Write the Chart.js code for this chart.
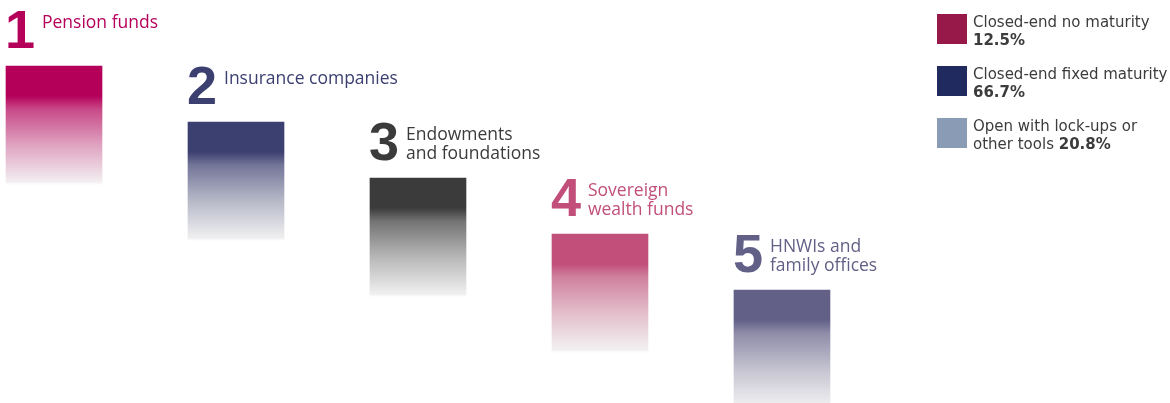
<!DOCTYPE html>
<html>
<head>
<meta charset="utf-8">
<script src="https://cdn.jsdelivr.net/npm/chart.js@4"></script>
<style>
    html, body { margin: 0; padding: 0; background: #fff; }
    #wrap { position: relative; width: 1170px; height: 403px; }
</style>
</head>
<body>
<div id="wrap"><canvas id="rankChart"></canvas></div>
<script>
// investor types, ranked
const investors = [['Pension funds'], ['Insurance companies'], ['Endowments', 'and foundations'], ['Sovereign', 'wealth funds'], ['HNWIs and', 'family offices']];
const ranks = [1, 2, 3, 4, 5];
const barColors = ['#b5005a', '#3b4070', '#3b3b3b', '#c14f79', '#626087'];
const barDepth = 2.14;

// fund structure shares (right-hand key)
const fundTypes = [['Closed-end no maturity', ''], ['Closed-end fixed maturity', ''], ['Open with lock-ups or', 'other tools']];
const fundShares = [12.5, 66.7, 20.8];
const fundColors = ['#97194a', '#212a5e', '#8a9cb5'];

// blend a hex colour toward a pale grey, t = share of the original colour
function fade(hex, t) {
    const n = parseInt(hex.slice(1), 16);
    const mix = v => Math.round(v * t + 244 * (1 - t));
    return `rgb(${mix((n >> 16) & 255)}, ${mix((n >> 8) & 255)}, ${mix(n & 255)})`;
}

function barGradient(ctx) {
    const chart = ctx.chart;
    const i = ctx.dataIndex;
    const color = barColors[i];
    if (!chart.chartArea || i === undefined) return color;
    const y = chart.scales.y;
    const top = y.getPixelForValue(ranks[i]);
    const bottom = y.getPixelForValue(ranks[i] + barDepth);
    const g = chart.ctx.createLinearGradient(0, top, 0, bottom);
    g.addColorStop(0, color);
    g.addColorStop(0.25, color);
    g.addColorStop(0.36, fade(color, 0.7));
    g.addColorStop(0.66, fade(color, 0.33));
    g.addColorStop(0.97, fade(color, 0.02));
    g.addColorStop(1, 'rgba(255,255,255,0)');
    return g;
}

const rankLabels = {
    id: 'rankLabels',
    afterDatasetsDraw(chart) {
        const c = chart.ctx;
        const xs = chart.scales.x, ys = chart.scales.y;
        c.save();
        c.textBaseline = 'alphabetic';
        c.textAlign = 'left';
        ranks.forEach((r, i) => {
            const left = xs.getPixelForValue(r) - 48;
            const top = ys.getPixelForValue(r);
            c.fillStyle = barColors[i];
            c.font = 'bold 54px "Liberation Sans"';
            c.fillText(String(r), left - 1, top - 18);
            c.font = '17.5px "Open Sans"';
            investors[i].forEach((line, k) => {
                c.fillText(line, left + 36, top - 38 + k * 19);
            });
        });
        c.restore();
    }
};

const fundKey = {
    id: 'fundKey',
    afterDraw(chart) {
        const c = chart.ctx;
        c.save();
        c.textBaseline = 'alphabetic';
        c.textAlign = 'left';
        fundTypes.forEach((lines, i) => {
            const top = 14 + i * 52;
            c.fillStyle = fundColors[i];
            c.fillRect(937, top, 30, 30);
            c.fillStyle = '#3c3c3c';
            const value = fundShares[i].toFixed(1) + '%';
            lines.forEach((line, k) => {
                const y = top + 13 + k * 18;
                let x = 973;
                c.font = '15px "DejaVu Sans"';
                if (line) {
                    c.fillText(line, x, y);
                    x += c.measureText(line + ' ').width;
                }
                if (k === lines.length - 1) {
                    c.font = 'bold 15px "DejaVu Sans"';
                    c.fillText(value, x, y);
                }
            });
        });
        c.restore();
    }
};

new Chart(document.getElementById('rankChart'), {
    type: 'bar',
    data: {
        datasets: [{
            data: ranks.map(r => ({ x: r, y: [r, r + barDepth] })),
            backgroundColor: barGradient,
            borderWidth: 0,
            barThickness: 96
        }]
    },
    options: {
        responsive: true,
        maintainAspectRatio: false,
        animation: false,
        layout: { padding: 0 },
        plugins: { legend: { display: false }, tooltip: { enabled: false } },
        scales: {
            x: { type: 'linear', display: false, offset: false, min: 0.7033, max: 7.132 },
            y: { display: false, reverse: true, min: -0.1786, max: 7.018 }
        }
    },
    plugins: [rankLabels, fundKey]
});
</script>
</body>
</html>
